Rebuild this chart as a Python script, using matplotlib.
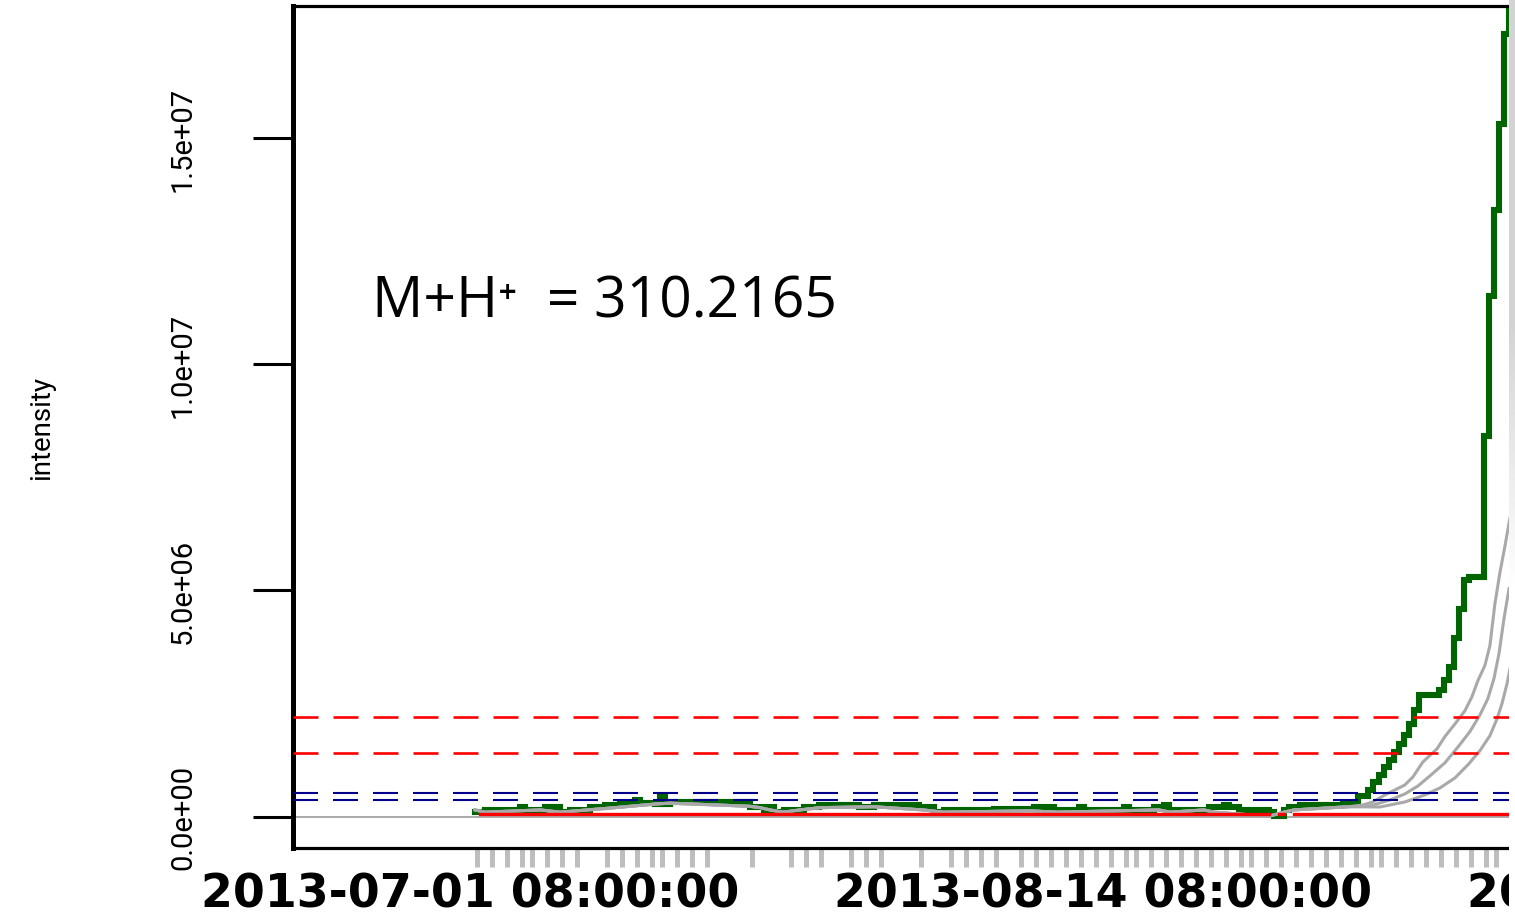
import numpy as np
import matplotlib
matplotlib.use("Agg")
import matplotlib.pyplot as plt

# time axis: days after 2013-07-01 08:00:00
label_days = [0, 44, 88]
label_text = ["2013-07-01 08:00:00", "2013-08-14 08:00:00", "2013-09-27 08:00:00"]

# sampling times (rug under the axis)
rug_days = [0.52, 1.53, 2.57, 3.61, 4.31, 5.35, 6.40, 7.44, 9.52, 10.57, 11.61,
            12.65, 13.35, 14.39, 15.43, 16.47, 19.60, 22.31, 23.36, 24.40, 26.48,
            27.53, 28.57, 31.35, 33.44, 34.48, 35.52, 36.56, 38.30, 39.34, 40.39,
            41.43, 42.47, 43.51, 44.56, 45.60, 46.29, 47.34, 48.38, 49.42, 50.47,
            51.51, 52.55, 53.60, 54.32, 55.33, 56.37, 57.42, 58.46, 59.50, 60.54,
            61.59, 62.63, 63.32, 64.37, 65.41, 66.45, 67.50, 68.54, 69.58, 70.62,
            71.32, 72.36]

# observed intensity (green step line)
obs_days = [0.35, 1.04, 3.48, 3.82, 5.21, 6.26, 6.95, 8.34, 9.38, 10.43, 11.47,
            11.82, 12.86, 13.21, 13.55, 13.90, 19.46, 20.44, 20.78, 21.13, 21.83,
            22.87, 23.22, 24.26, 27.04, 28.08, 31.21, 32.25, 32.95, 36.42, 39.20,
            40.60, 40.94, 42.33, 42.68, 45.46, 45.81, 47.55, 48.24, 48.59, 48.94,
            51.37, 52.41, 52.76, 53.45, 53.80, 55.54, 55.89, 56.58, 56.93, 57.70,
            60.68, 61.72, 62.42, 62.77, 63.19, 63.53, 63.88, 64.23, 64.58, 64.92,
            65.27, 65.62, 65.97, 67.36, 67.71, 68.05, 68.40, 68.75, 69.10, 69.44,
            70.49, 70.84, 71.18, 71.53, 71.88, 72.23]
obs_int = [1.0e5, 1.5e5, 2.05e5, 1.5e5, 2.05e5, 1.0e5, 1.5e5, 2.05e5, 2.5e5, 3.0e5, 3.7e5,
           3.0e5, 2.8e5, 4.25e5, 2.8e5, 3.15e5, 2.05e5, 1.5e5, 2.05e5, 1.0e5, 1.5e5,
           1.0e5, 2.05e5, 2.5e5, 2.05e5, 2.6e5, 2.05e5, 1.0e5, 1.5e5, 1.8e5, 2.25e5,
           1.0e5, 1.5e5, 2.05e5, 1.5e5, 2.05e5, 1.5e5, 2.05e5, 2.6e5, 1.0e5, 1.5e5,
           2.05e5, 2.6e5, 2.05e5, 1.0e5, 1.5e5, 1.0e5, 1.5e4, 1.5e5, 2.25e5, 2.5e5,
           3.0e5, 4.5e5, 6.0e5, 7.75e5, 9.25e5, 1.09e6, 1.25e6, 1.42e6, 1.60e6, 1.81e6,
           2.05e6, 2.36e6, 2.69e6, 2.81e6, 3.03e6, 3.31e6, 3.96e6, 4.59e6, 5.24e6, 5.30e6,
           8.41e6, 1.15e7, 1.34e7, 1.53e7, 1.73e7, 1.85e7]

# smoothed curves (grey), common flat part then three separate rises
flat_days = [0.35, 1.04, 4.87, 6.26, 10.08, 12.86, 13.90, 19.46, 20.16, 20.85, 21.76,
             22.94, 24.33, 28.08, 31.49, 32.88, 38.93, 40.80, 47.89, 48.66, 51.02,
             51.72, 55.54, 56.58, 57.28, 61.03]
flat_int = [1.5e5, 1.0e5, 1.5e5, 1.0e5, 2.0e5, 2.8e5, 3.0e5, 2.3e5, 2.0e5, 1.5e5, 1.0e5,
            1.5e5, 2.0e5, 2.2e5, 1.5e5, 1.0e5, 1.3e5, 1.0e5, 1.5e5, 1.0e5, 1.5e5,
            1.0e5, 1.0e4, 1.0e5, 1.5e5, 2.2e5]

rise1_days = [62.07, 62.77, 63.60, 64.30, 64.99, 65.55, 66.24, 67.22, 67.77, 68.47,
              69.16, 69.65, 70.07, 70.55, 70.90, 71.25, 71.60, 71.94, 72.29]
rise1_int = [2.59e5, 3.26e5, 4.81e5, 5.91e5, 7.02e5, 8.79e5, 1.21e6, 1.50e6, 1.77e6, 2.05e6,
             2.34e6, 2.65e6, 3.01e6, 3.34e6, 3.78e6, 4.71e6, 5.40e6, 5.97e6, 6.60e6]
rise2_days = [62.56, 63.95, 64.99, 65.90, 66.73, 67.77, 68.68, 69.51, 70.21, 70.76,
              71.18, 71.53, 71.88, 72.23]
rise2_int = [2.37e5, 3.70e5, 5.03e5, 6.80e5, 9.02e5, 1.19e6, 1.54e6, 1.88e6, 2.25e6, 2.61e6,
             3.05e6, 3.60e6, 4.38e6, 5.04e6]
rise3_days = [63.26, 64.99, 66.38, 67.43, 68.47, 69.38, 70.21, 70.90, 71.39, 71.74,
              72.09, 72.44]
rise3_int = [2.15e5, 3.26e5, 4.81e5, 6.36e5, 8.57e5, 1.15e6, 1.46e6, 1.79e6, 2.16e6, 2.50e6,
             2.94e6, 3.49e6]

# baseline (red solid), with two missing stretches
base_days = [0.70, 55.54, 56.24, 56.58, 57.28, 76.0]
base_int = [5.3e4, np.nan, 5.3e4, np.nan, 5.3e4, 5.3e4]

# thresholds
blue_levels = [5.25e5, 3.7e5]
red_levels = [2.2e6, 1.4e6]

yticks = [0, 5e6, 1e7, 1.5e7]
ytick_labels = ["0.0e+00", "5.0e+06", "1.0e+07", "1.5e+07"]

plt.rcParams["lines.scale_dashes"] = False
narrow = ["Roboto", "DejaVu Sans"]

fig = plt.figure(figsize=(15.15, 9.2), dpi=100)
ax = fig.add_axes([0.19307, 0.07696, 0.82673, 0.915])

ax.axhline(0, color="#AAAAAA", lw=1.4, zorder=1)
ax.plot(obs_days, obs_int, drawstyle="steps-post", color="#006400", lw=4.4,
        solid_joinstyle="miter", zorder=2)
for rd, ri in [(rise1_days, rise1_int), (rise2_days, rise2_int), (rise3_days, rise3_int)]:
    ax.plot(flat_days + rd, flat_int + ri, color="#A9A9A9", lw=2.2, zorder=3)
ax.plot(base_days, base_int, drawstyle="steps-post", color="#FF0000", lw=2.4, zorder=4)

for lv in blue_levels:
    ax.axhline(lv, color="#00008B", lw=1.5, linestyle=(0, (18, 10.8)), zorder=5)
for lv in red_levels:
    ax.axhline(lv, color="#FF0000", lw=1.9, linestyle=(0, (18, 10.8)), zorder=5)

ax.set_xlim(-12.34, 74.73)
ax.set_ylim(-6.96e5, 1.7908e7)

for side in ["top", "bottom", "right"]:
    ax.spines[side].set_linewidth(2.3)
ax.spines["left"].set_linewidth(3.6)

ax.set_yticks(yticks)
ax.set_yticklabels(ytick_labels, rotation=90, va="center", family=narrow, fontsize=21)
ax.tick_params(axis="y", length=28.8, width=2.2, pad=40)

ax.set_xticks([])
ax.set_xticks(rug_days, minor=True)
ax.tick_params(axis="x", which="minor", length=13.7, width=3.6, color="#BEBEBE")
for d, t in zip(label_days, label_text):
    ax.text(d, -0.069, t, transform=ax.get_xaxis_transform(), ha="center",
            va="baseline", fontsize=33, fontweight="bold", color="black",
            clip_on=False)

fig.text(42 / 1515, 1 - 428 / 920, "intensity", rotation=90, ha="center",
         va="center", family=narrow, fontsize=20)

fig.text(372 / 1515, 1 - 318 / 920, "M+H\u207a  = 310.2165", ha="left",
         va="baseline", family=["Open Sans", "DejaVu Sans"], fontsize=41)

# light grey edge on the right of the screenshot
strip = fig.add_axes([1509 / 1515, 0, 6 / 1515, 1])
rows = np.linspace(0, 920, 920)
shade = np.clip(0.83 + (rows - 330) / 260 * 0.17, 0.83, 1.0)
strip.imshow(np.repeat(shade[:, None], 2, axis=1), cmap="gray", vmin=0, vmax=1,
             aspect="auto", interpolation="bilinear")
strip.axis("off")

fig.savefig("out.png", dpi=100)
